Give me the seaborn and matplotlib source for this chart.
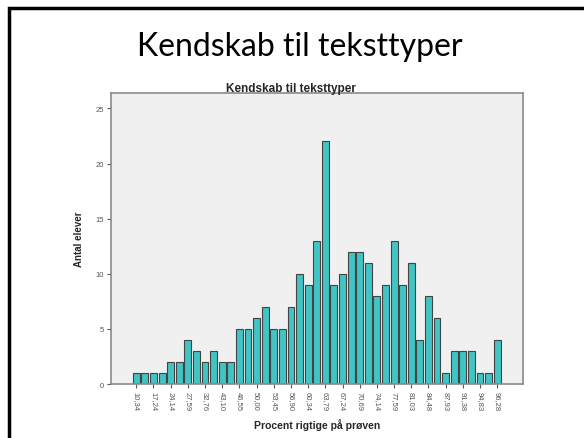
import matplotlib
matplotlib.use("Agg")
import matplotlib.pyplot as plt
from matplotlib.patches import Rectangle
import seaborn as sns
import pandas as pd

# percent correct (category labels) and number of pupils per category
categories = ['10,34', '13,79', '17,24', '20,69', '24,14', '25,86', '27,59', '31,03',
              '32,76', '37,93', '43,10', '44,83', '46,55', '48,28', '50,00', '51,72',
              '53,45', '55,17', '56,90', '58,62', '60,34', '62,07', '63,79', '65,52',
              '67,24', '68,97', '70,69', '72,41', '74,14', '75,86', '77,59', '79,31',
              '81,03', '82,76', '84,48', '86,21', '87,93', '89,66', '91,38', '93,10',
              '94,83', '95,40', '96,28']
counts = [1, 1, 1, 1, 2, 2, 4, 3, 2, 3, 2, 2, 5, 5, 6, 7, 5, 5, 7, 10, 9, 13, 22,
          9, 10, 12, 12, 11, 8, 9, 13, 9, 11, 4, 8, 6, 1, 3, 3, 3, 1, 1, 4]
y_ticks = [0, 5, 10, 15, 20, 25]

df = pd.DataFrame({'procent': categories, 'antal': counts})

sns.set_style('white')
plt.rcParams['font.family'] = ['Liberation Sans', 'DejaVu Sans']

fig = plt.figure(figsize=(5.84, 4.39), dpi=100)
fig.patch.set_facecolor('white')

# slide frame
fig.add_artist(Rectangle((9 / 584, -0.1), 1.2, 1.1 - 9 / 439, transform=fig.transFigure,
                         fill=False, lw=2.5, ec='black'))

# slide title
fig.text(0.514, 0.893, 'Kendskab til teksttyper', ha='center', va='center',
         fontsize=23, family=['Lato', 'DejaVu Sans'], color='black')

ax = fig.add_axes([0.190, 0.123, 0.7055, 0.663])
sns.barplot(data=df, x='procent', y='antal', order=categories, color='#40C4C4',
            saturation=1, width=0.8, edgecolor='#444444', linewidth=0.8, ax=ax)

ax.set_facecolor('#F0F0F0')
ax.set_xlim(-2.95, 45.0)
ax.set_ylim(0, 26.4)
ax.set_yticks(y_ticks)
ax.set_yticklabels([str(v) for v in y_ticks], fontsize=5.5, color='#555555')
ax.set_xticks(range(0, len(categories), 2))
ax.set_xticklabels(categories[::2], rotation=270, fontsize=5.5, color='#555555')
ax.tick_params(axis='both', length=3, width=0.8, color='#555555', pad=2,
               bottom=True, left=True)
for s in ax.spines.values():
    s.set_color('#8a8a8a')
    s.set_linewidth(1.2)

ax.set_title('Kendskab til teksttyper', fontsize=8.5, fontweight='bold', pad=1.5, x=0.437)
ax.set_xlabel('Procent rigtige på prøven', fontsize=7.5, fontweight='bold', labelpad=6)
ax.set_ylabel('Antal elever', fontsize=7, fontweight='bold', labelpad=8)

fig.savefig('out.png', dpi=100)
